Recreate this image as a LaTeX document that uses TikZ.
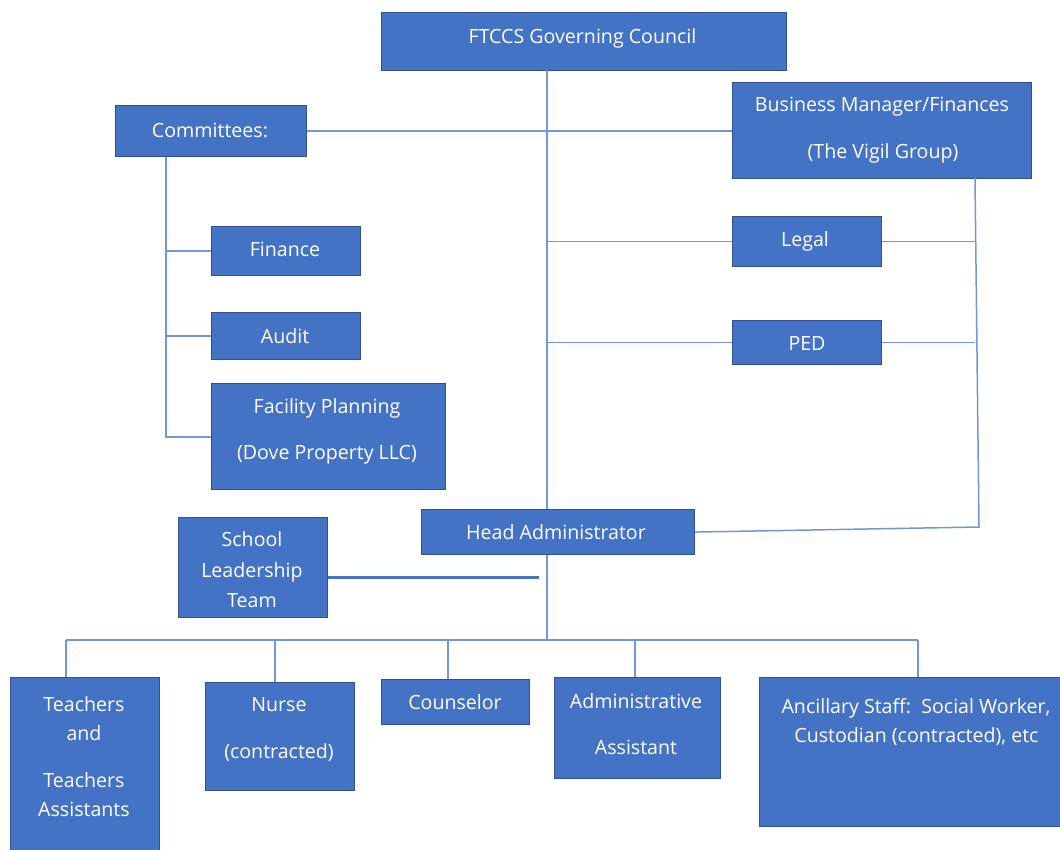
\documentclass[tikz,border=0pt]{standalone}
\usepackage{fontspec}
\setmainfont{Open Sans}
\definecolor{boxfill}{RGB}{68,114,196}
\definecolor{boxedge}{RGB}{47,82,143}
\definecolor{linecol}{RGB}{114,151,214}
\definecolor{darkline}{RGB}{68,114,196}
\begin{document}
\begin{tikzpicture}[x=1pt,y=-1pt,
  box/.style={draw=boxedge, fill=boxfill, line width=1.1pt, inner sep=0pt, anchor=north west},
  lbl/.style={text=white, font=\fontsize{19.6}{24}\selectfont, inner sep=0pt, anchor=base},
  conn/.style={draw=linecol, line width=1.5pt},
  thickconn/.style={draw=darkline, line width=3pt}]
\fill[white] (0,0) rectangle (1060,849);
\useasboundingbox (0,0) rectangle (1060,849);

% coordinates for connectors
\coordinate (t0) at (547,70);
\coordinate (bus) at (547,640);
\coordinate (cv) at (166,437);
\coordinate (rtop) at (975,178);
\coordinate (rbot) at (979,527);
\coordinate (sltend) at (539,577);
\coordinate (d1) at (66,640);
\coordinate (d2) at (275,640);
\coordinate (d3) at (448,640);
\coordinate (d4) at (635,640);
\coordinate (d5) at (918,640);

% boxes
\node[box, minimum width=405pt, minimum height=58pt] (gov) at (381,12) {};
\node[box, minimum width=191pt, minimum height=51pt] (comm) at (115,105) {};
\node[box, minimum width=299pt, minimum height=96pt] (bm) at (732,82) {};
\node[box, minimum width=149pt, minimum height=50pt] (legal) at (732,216) {};
\node[box, minimum width=149pt, minimum height=44pt] (ped) at (732,320) {};
\node[box, minimum width=149pt, minimum height=49pt] (fin) at (211,226) {};
\node[box, minimum width=149pt, minimum height=47pt] (aud) at (211,312) {};
\node[box, minimum width=234pt, minimum height=106pt] (fac) at (211,383) {};
\node[box, minimum width=149pt, minimum height=100pt] (slt) at (178,517) {};
\node[box, minimum width=273pt, minimum height=45pt] (head) at (421,509) {};
\node[box, minimum width=149pt, minimum height=190pt] (teach) at (10,677) {};
\node[box, minimum width=149pt, minimum height=108pt] (nurse) at (205,682) {};
\node[box, minimum width=148pt, minimum height=45pt] (couns) at (381,679) {};
\node[box, minimum width=166pt, minimum height=101pt] (admin) at (554,677) {};
\node[box, minimum width=310pt, minimum height=149pt] (anc) at (759,677) {};

% connectors
\draw[conn] (t0) -- (head.north -| t0);
\draw[conn] (head.south -| t0) -- (bus);
\draw[conn] (comm.east) -- (comm.east -| bm.west);
\draw[conn] (legal.west -| t0) -- (legal.west);
\draw[conn] (ped.west -| t0) -- (ped.west);
\draw[conn] (comm.south -| cv) -- (cv) -- (cv -| fac.west);
\draw[conn] (cv |- fin.west) -- (fin.west);
\draw[conn] (cv |- aud.west) -- (aud.west);
\draw[conn] (rtop) -- (rbot) -- (head.east);
\draw[conn] (legal.east) -- (legal.east -| rtop);
\draw[conn] (ped.east) -- (ped.east -| rtop);
\draw[thickconn] (slt.east |- sltend) -- (sltend);
\draw[conn] (d1) -- (d5);
\draw[conn] (d1) -- (d1 |- teach.north);
\draw[conn] (d2) -- (d2 |- nurse.north);
\draw[conn] (d3) -- (d3 |- couns.north);
\draw[conn] (d4) -- (d4 |- admin.north);
\draw[conn] (d5) -- (d5 |- anc.north);

% labels
\node[lbl] (gov-1) at (582.5,43) {FTCCS Governing Council};
\node[lbl] (comm-1) at (210,137) {Committees:};
\node[lbl] (bm-1) at (882,111) {Business Manager/Finances};
\node[lbl] (bm-2) at (883,158) {(The Vigil Group)};
\node[lbl] (legal-1) at (805,246) {Legal};
\node[lbl] (ped-1) at (807,350) {PED};
\node[lbl] (fin-1) at (285,256) {Finance};
\node[lbl] (aud-1) at (285,343) {Audit};
\node[lbl] (fac-1) at (327,413) {Facility Planning};
\node[lbl] (fac-2) at (327,459) {(Dove Property LLC)};
\node[lbl] (slt-1) at (252,546) {School};
\node[lbl] (slt-2) at (252,577) {Leadership};
\node[lbl] (slt-3) at (252,607) {Team};
\node[lbl] (head-1) at (556,539) {Head Administrator};
\node[lbl] (teach-1) at (84,711) {Teachers};
\node[lbl] (teach-2) at (84,740) {and};
\node[lbl] (teach-3) at (84,787) {Teachers};
\node[lbl] (teach-4) at (84,816) {Assistants};
\node[lbl] (nurse-1) at (279,711) {Nurse};
\node[lbl] (nurse-2) at (279,758) {(contracted)};
\node[lbl] (couns-1) at (455,709) {Counselor};
\node[lbl] (admin-1) at (636,708) {Administrative};
\node[lbl] (admin-2) at (636,754) {Assistant};
\node[lbl] (anc-1) at (916,713) {Ancillary Staff:\ \ Social Worker,};
\node[lbl] (anc-2) at (916.5,742) {Custodian (contracted), etc};
\end{tikzpicture}
\end{document}
